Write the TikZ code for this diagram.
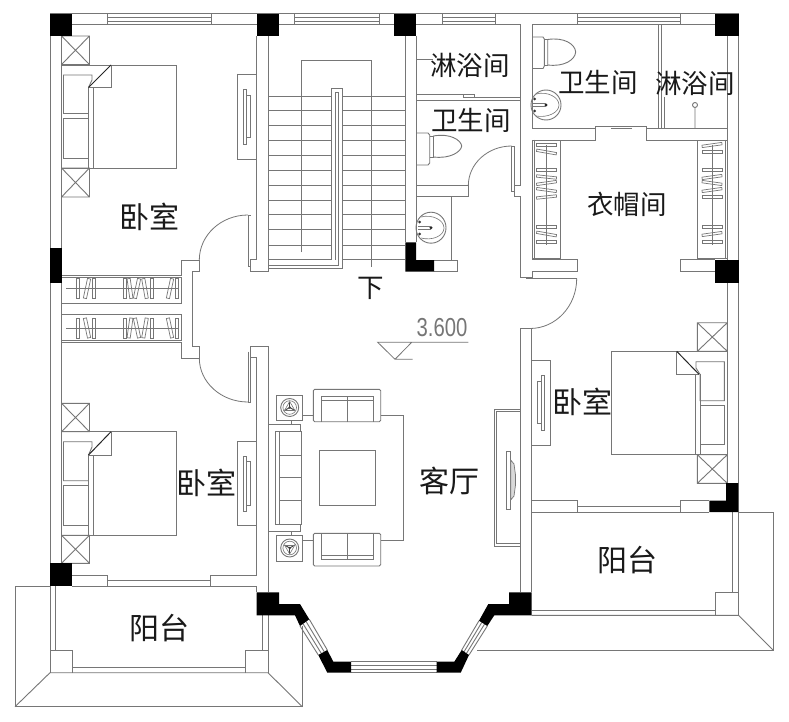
\documentclass[tikz,border=0pt]{standalone}
\usepackage{fontspec}
\usetikzlibrary{calc}
\setmainfont{Noto Sans CJK SC}
\newfontfamily\numfont{Liberation Sans}
\definecolor{ln}{HTML}{767676}
\tikzset{
  x=1pt,y=-1pt,
  wl/.style={draw=ln,line width=0.9pt,line join=miter},
  thn/.style={draw=ln,line width=0.8pt},
  blk/.style={fill=black,draw=none},
  lab/.style={inner sep=0pt,text=black!90,font=\fontsize{30}{30}\selectfont},
  labs/.style={inner sep=0pt,text=black!90,font=\fontsize{26.5}{27}\selectfont},
}
\newcommand{\xbox}[4]{\draw[wl] (#1,#2) rectangle (#3,#4) (#1,#2) -- (#3,#4) (#1,#4) -- (#3,#2);}
\newcommand{\hangV}[3]{\draw[thn,line width=0.7pt,rotate around={#3:(#1,#2)}] (#1-1.6,#2-10) rectangle (#1+1.6,#2+10);}
\newcommand{\hangH}[3]{\draw[thn,line width=0.7pt,rotate around={#3:(#1,#2)}] (#1-10,#2-1.2) rectangle (#1+10,#2+1.2);}
\newcommand{\lampmark}[3]{%
 \draw[wl] (#1,#2) circle (9);
 \draw[thn,line width=0.6pt] (#1,#2) circle (6.8);
 \fill[black!75] (#1,#2) circle (1.3);
 \foreach \a in {0,120,240} {\draw[black!75,line width=0.9pt] (#1,#2) -- ++(#3+\a:6);
   \draw[thn,line width=0.6pt] ($(#1,#2)+(#3+\a:6)$) -- ($(#1,#2)+(#3+\a+60:3)$);
   \draw[thn,line width=0.6pt] ($(#1,#2)+(#3+\a:6)$) -- ($(#1,#2)+(#3+\a-60:3)$);}
}
\begin{document}
\begin{tikzpicture}
\useasboundingbox (0,0) rectangle (789,722);
\fill[white] (0,0) rectangle (789,722);
% outer top wall
\draw[wl] (50,13.7) -- (738.7,13.7);
\draw[wl] (72,24.5) -- (256.5,24.5) (279,24.5) -- (394,24.5) (416,24.5) -- (520.3,24.5) (532,24.5) -- (715,24.5);
% top windows
\foreach \a/\b in {107/211,294/379,442.5/495,577.7/680.7}{
  \draw[wl] (\a,13.7) -- (\a,24.5) (\b,13.7) -- (\b,24.5);
  \draw[wl] (\a,17.5) -- (\b,17.5) (\a,21) -- (\b,21);
}
% left wall
\draw[wl] (50,36) -- (50,563) (61.5,36) -- (61.5,248) (61.5,283) -- (61.5,563);
% walls around stair
\draw[wl] (256.5,36) -- (256.5,259.7) -- (250.7,259.7) -- (250.7,271) -- (268,271) -- (268,36);
\draw[wl] (248,215) -- (250.7,215) (248,215) -- (248,266) -- (250.7,266);
\draw[wl] (405.3,36) -- (405.3,242.3) (416,36) -- (416,242.3);
% treads
\foreach \y in {96,110.7,125.3,140.3,155.7,170.7,185.3,200.3,214.7,229.3,245,259.7}{
  \draw[thn] (268,\y) -- (331.7,\y) (342.3,\y) -- (405.3,\y);
}
\draw[thn] (301.3,252) -- (301.3,60.7) -- (371.7,60.7) -- (371.7,267);
\draw[thn] (331.7,259.7) -- (331.7,88) -- (342.3,88) -- (342.3,268) -- (268,268);
\draw[thn] (335,259.7) -- (335,92) -- (338.5,92) -- (338.5,265) -- (268,265);
% door top-left bedroom
\draw[wl] (61.5,275) -- (181.7,275) (181.7,275) -- (181.7,260) -- (199.3,260) -- (199.3,271) -- (192.7,271) -- (192.7,346.7) -- (199.3,346.7) -- (199.3,358) -- (181.7,358) -- (181.7,342.5);
\draw[thn] (199.3,260) arc (180:270:48.7 and 45);
\draw[thn] (199.3,358) arc (180:90:48.7 and 44);
% closets left
\draw[wl] (61.5,277.3) rectangle (181.7,303.3);
\draw[wl] (61.5,314.5) rectangle (181.7,340.5) (61.5,342.5) -- (181.7,342.5);
\draw[thn] (66,288.5) -- (178,288.5) (66,328) -- (178,328);
\foreach \x/\a in {78/0,87/-12,94/0,125/0,130/8,137/-12,145/10,152/0,170/-12,177/0}{\hangV{\x}{288.5}{\a}}
\foreach \x/\a in {78/0,87/12,94/0,125/0,130/-8,137/12,145/-10,152/0,170/12,177/0}{\hangV{\x}{328}{\a}}
% bedroom 1
\xbox{61.5}{36}{89.5}{64.5}
\xbox{61.5}{168}{89.5}{197}
\draw[wl] (61.5,65) -- (176,65) -- (176,168) -- (61.5,168);
\draw[wl] (63.5,75) -- (92,75) -- (92,80) -- (88.5,87.5) -- (88.5,113.5) -- (63.5,113.5) -- cycle;
\draw[wl] (63.5,118.5) rectangle (88.5,158);
\draw[wl] (88.5,87.5) -- (88.5,168) (93,87.5) -- (93,168);
\draw[wl] (111,65) -- (111,87.5) -- (88.5,87.5);
\draw[black!85,line width=1pt] (88.5,87.5) -- (111,65);
\draw[wl] (237.5,74) -- (256.5,74) (237.5,74) -- (237.5,159.5) -- (256.5,159.5);
\draw[thn] (243.5,89.5) rectangle (246.7,144) (246.7,95) rectangle (250,137);
% bedroom 2
\draw[wl] (250.7,346) -- (268,346) -- (268,592.3);
\draw[wl] (256.5,357.3) -- (250.7,357.3) -- (250.7,346);
\draw[wl] (256.5,357.3) -- (256.5,575) -- (210,575) -- (210,586) -- (256.5,586) -- (256.5,592.3);
\draw[wl] (248,351.7) -- (248,402) -- (250.3,402) -- (250.3,357.3);
\xbox{61.5}{403.3}{89.5}{431.7}
\xbox{61.5}{535.3}{89.5}{563.3}
\draw[wl] (61.5,431.7) -- (176,431.7) -- (176,535.3) -- (61.5,535.3);
\draw[wl] (63.5,441.7) -- (92,441.7) -- (92,447) -- (88.5,455) -- (88.5,480.7) -- (63.5,480.7) -- cycle;
\draw[wl] (63.5,485.7) rectangle (88.5,525);
\draw[wl] (88.5,455) -- (88.5,535.3) (93,455) -- (93,535.3);
\draw[wl] (111,431.7) -- (111,455) -- (88.5,455);
\draw[black!85,line width=1pt] (88.5,455) -- (111,431.7);
\draw[wl] (256.5,441) -- (237.7,441) -- (237.7,525.7) -- (256.5,525.7);
\draw[thn] (243.3,456) rectangle (246.7,511) (246.7,461.7) rectangle (250,505.7);
\draw[wl] (72,575) -- (107.3,575) -- (107.3,586) -- (72,586);
\draw[thn,line width=1.5pt] (107.3,580.3) -- (210,580.3);
% balcony left
\draw[wl] (50,586) -- (15,586) -- (15,706.7) -- (302.3,706.7) -- (302.3,626);
\draw[wl] (15,706.7) -- (50,672.7) -- (268,672.7) -- (302.3,706.7);
\draw[wl] (50,586) -- (50,672.7) (55.5,586) -- (55.5,650);
\draw[wl] (50,650) -- (72,650) -- (72,672.7) (245,672.7) -- (245,650) -- (268,650);
\draw[wl] (72,667) -- (245,667);
\draw[wl] (262.3,615.3) -- (262.3,650) (268,615.3) -- (268,672.7);
\draw[wl] (72,586) -- (256.5,586);
% bath mid
\draw[wl] (416,94) -- (474,94) -- (474,97.3) -- (463.3,97.3) -- (463.3,94);
\draw[wl] (463.3,97.3) -- (520.3,97.3) (416,100) -- (520.3,100);
\draw[thn] (416,59.3) -- (433,59.3);
\draw[wl] (416,185.7) -- (468.3,185.7) -- (468.3,196.7) -- (416,196.7);
\draw[thn] (451.7,196.7) -- (451.7,260);
\draw[wl] (520.3,24.5) -- (520.3,185) -- (514.3,185);
\draw[wl] (511.7,146) -- (514.3,146) -- (514.3,196.7) -- (520.3,196.7) -- (520.3,277) -- (532,277) -- (532,271.5);
\draw[wl] (511.7,146) -- (511.7,191) -- (514.3,191);
\draw[thn] (468.3,185.7) arc (180:270:43.4 and 39.7);
\draw[wl] (434,260) -- (457.3,260) -- (457.3,271.7) -- (434,271.7);
% toilets
\draw[wl] (416,133) -- (428,133) -- (429.7,135) -- (429.7,163) -- (428,165) -- (416,165);
\draw[wl] (433.5,136) .. controls (450,133) and (461,140) .. (461.7,146) .. controls (461,152) and (450,159) .. (433.5,157) -- cycle;
\draw[wl] (429.7,136) -- (433.5,136) (429.7,157) -- (433.5,157);
\draw[wl] (532,37) -- (543,37) -- (544.3,39) -- (544.3,66) -- (543,68.5) -- (532,68.5);
\draw[wl] (547.7,39.5) .. controls (564,37) and (575,44) .. (575.7,52) .. controls (575,60) and (564,67) .. (547.7,65) -- cycle;
\draw[wl] (544.3,39.5) -- (547.7,39.5) (544.3,65) -- (547.7,65);
% sinks
\draw[wl] (431,227.7) ellipse (15 and 15.5);
\draw[thn,line width=0.6pt] (421,217) .. controls (432,214) and (444,220) .. (444,228) .. controls (444,236) and (432,241) .. (421,238);
\fill[black!85] (431,227.7) circle (1.6);
\draw[thn,line width=0.6pt] (418,226.5) -- (431,226.5) (418,229) -- (431,229);
\fill[black!80] (419.5,222) circle (1.5) (419.5,234) circle (1.5);
\draw[wl] (546,105) ellipse (15 and 15);
\draw[thn,line width=0.6pt] (536,94) .. controls (547,91) and (559,97) .. (559,105) .. controls (559,113) and (547,118) .. (536,116);
\fill[black!85] (546,105) circle (1.6);
\draw[thn,line width=0.6pt] (533,103.7) -- (546,103.7) (533,106.3) -- (546,106.3);
\fill[black!80] (534.5,99) circle (1.5) (534.5,111) circle (1.5);
% bath right
\draw[wl] (532,24.5) -- (532,128) -- (595,128) -- (595,126) -- (646,126) -- (646,128) -- (727.3,128);
\draw[wl] (658,24.5) -- (658,128) (661,24.5) -- (661,128) (664,97) -- (664,128);
\draw[wl] (532,140) -- (595,140) -- (595,128) (646,128) -- (646,140) -- (727.3,140);
\draw[thn] (611,128.7) -- (632,128.7);
\draw[wl] (695,105) circle (2.5) (695,107.5) -- (695,128);
% closets right
\draw[wl] (532,140) rectangle (560.5,258.7) (534,140) -- (534,258.7);
\draw[wl] (697,140) rectangle (727.3,258.7) (725.3,140) -- (725.3,258.7);
\draw[thn] (546.5,145) -- (546.5,245) (712,145) -- (712,245);
\foreach \y/\a in {145/0,152/-10,170/0,177/-6,183/8,190/-8,197/6,227/0,234/-10,242/0}{\hangH{546.5}{\y}{\a}}
\foreach \y/\a in {145/8,152/0,170/0,177/8,183/-8,190/8,197/0,227/0,234/8,242/0}{\hangH{712}{\y}{\a}}
\draw[wl] (532,259) -- (577.7,259) -- (577.7,271.5) -- (532,271.5);
\draw[wl] (715,259) -- (680.5,259) -- (680.5,271.5) -- (715,271.5);
% right wall
\draw[wl] (738.7,36) -- (738.7,260) (738.7,283) -- (738.7,483) (727.3,36) -- (727.3,260) (727.3,283) -- (727.3,483);
% door bedroom 3
\draw[wl] (526,278.5) -- (576.7,278.5);
\draw[thn] (576.7,278.5) arc (0:90:46.7 and 50);
\draw[wl] (520.7,592.3) -- (520.7,328.5) -- (531.7,328.5) -- (531.7,592.3);
% bedroom 3
\xbox{697.3}{322.7}{727.3}{351.3}
\xbox{697.3}{454.7}{727.3}{483.3}
\draw[wl] (727.3,351.3) -- (611.7,351.3) -- (611.7,454.7) -- (727.3,454.7);
\draw[wl] (696,361.7) -- (724.3,361.7) -- (724.3,400.7) -- (700,400.7) -- (700,374.3) -- (696,368) -- cycle;
\draw[wl] (700,405) rectangle (724.3,444.3);
\draw[wl] (695.7,374.3) -- (695.7,454.7) (700,374.3) -- (700,454.7);
\draw[wl] (676.7,351.3) -- (676.7,374.3) -- (699,374.3);
\draw[black!85,line width=1pt] (676.7,351.3) -- (699,374.3);
\draw[wl] (531.7,360.7) -- (550,360.7) -- (550,445) -- (531.7,445);
\draw[thn] (537.3,381.7) rectangle (541.7,423) (541.7,375) rectangle (544.3,430.7);
\draw[wl] (531.7,500.7) -- (577.7,500.7) -- (577.7,512) (680.3,512) -- (680.3,500.7) -- (709.3,500.7);
\draw[thn,line width=1.5pt] (577.7,506.5) -- (680.3,506.5);
% balcony right
\draw[wl] (531.7,512) -- (709.3,512) (738.5,512) -- (773,512) -- (773,650) -- (476.7,650);
\draw[wl] (531.7,615.3) -- (738.5,615.3) -- (773,650);
\draw[wl] (732.7,512) -- (732.7,592.3) (738.5,512) -- (738.5,615.3);
\draw[wl] (715,615.3) -- (715,592.3) -- (738.5,592.3);
\draw[wl] (531.7,610) -- (715,610);
% level mark
\draw[thn] (468.3,342.3) -- (377.7,342.3) -- (395,359.3) -- (412.7,359.3) (395,359.3) -- (411.7,342.3);
\node[inner sep=0pt,text=ln] (lv) at (442,327.5) {\numfont\fontsize{26}{26}\selectfont\scalebox{0.78}[1]{3.600}};
% living room furniture
\draw[wl] (276.7,395) rectangle (302.7,420) (276.7,535) rectangle (302.7,561);
\lampmark{289.7}{407.5}{-90}
\lampmark{289.7}{548}{90}
\draw[wl] (275,431.7) rectangle (301,524.3) (279.3,431.7) -- (279.3,524.3);
\draw[wl] (279.3,455.7) -- (301,455.7) (279.3,477.7) -- (301,477.7) (279.3,500.3) -- (301,500.3);
\draw[wl] (268,424) -- (300,424) -- (300,431.7) (268,531) -- (300,531) -- (300,524.3);
\draw[wl] (291.7,420) -- (291.7,424) (291.7,531) -- (291.7,535);
\draw[wl,rounded corners=1.5pt] (313.3,389.3) rectangle (380.7,421.7);
\draw[wl] (321.3,421.7) -- (321.3,396.7) -- (373,396.7) -- (373,421.7) (321.3,400) -- (373,400) (347,396.7) -- (347,421.7);
\draw[wl,rounded corners=1.5pt] (313.3,533.3) rectangle (380.7,566);
\draw[wl] (321.3,533.3) -- (321.3,559) -- (373,559) -- (373,533.3) (321.3,555) -- (373,555) (347,533.3) -- (347,559);
\draw[wl] (380.7,415) -- (403.3,415) -- (403.3,540.3) -- (380.7,540.3) (302.7,415) -- (313.3,415) (302.7,540.3) -- (313.3,540.3);
\draw[wl] (319.3,450) rectangle (375.3,505);
\draw[wl] (520.7,409.3) -- (494.3,409.3) -- (494.3,546.7) -- (520.7,546.7);
\draw[wl] (520.7,411.7) -- (496,411.7) -- (496,543.7) -- (520.7,543.7);
\draw[thn] (506.7,451) rectangle (510.7,509);
\draw[thn,line width=0.7pt,fill=black!15] (510.7,460) -- (514,464) -- (515.5,475) -- (515.5,485) -- (514,496) -- (510.7,500) -- cycle;
% bay windows
\draw[wl] (351,661.7) -- (436.7,661.7) (351,672.7) -- (436.7,672.7) (351,665.3) -- (436.7,665.3) (351,669) -- (436.7,669);
\foreach \t in {0,0.33,0.66,1}{
  \draw[wl] ($(300,626)!\t!(309.3,619.3)$) -- ($(318.3,655)!\t!(327.3,650)$);
  \draw[wl] ($(479,620.7)!\t!(487.3,626)$) -- ($(461.7,650)!\t!(469,655)$);
}
% black columns
\fill[blk] (50,14) rectangle (72,36);
\fill[blk] (256.5,14) rectangle (279,36);
\fill[blk] (394,14) rectangle (416,36);
\fill[blk] (715,14) rectangle (738.7,36);
\fill[blk] (50,248) rectangle (61.5,283);
\fill[blk] (50,563) rectangle (72,586);
\fill[blk] (715,260) rectangle (738.7,283);
\fill[blk] (405.3,242.3) -- (416,242.3) -- (416,260) -- (434,260) -- (434,271.7) -- (405.3,271.7) -- cycle;
\fill[blk] (726,483) -- (738.5,483) -- (738.5,512) -- (709.3,512) -- (709.3,500.7) -- (726,500.7) -- cycle;
\fill[blk] (256.7,592.3) -- (279,592.3) -- (279,604) -- (300,604) -- (309.3,619.3) -- (300,626) -- (295,615.3) -- (256.7,615.3) -- cycle;
\fill[blk] (318.3,655) -- (327.3,650) -- (333.3,661.7) -- (351,661.7) -- (351,672.7) -- (327.3,672.7) -- cycle;
\fill[blk] (436.7,661.7) -- (454.3,661.7) -- (461.7,650) -- (469,655) -- (460.7,672.7) -- (436.7,672.7) -- cycle;
\fill[blk] (479,620.7) -- (487.3,626) -- (494.3,615.3) -- (531.7,615.3) -- (531.7,592.3) -- (509,592.3) -- (509,604) -- (488.3,604) -- cycle;
% labels
\node[lab] (t1) at (149.5,217) {卧室};
\node[labs] (t2) at (470,65) {淋浴间};
\node[labs] (t3) at (471,120) {卫生间};
\node[labs] (t4) at (598,82) {卫生间};
\node[labs] (t5) at (695,83) {淋浴间};
\node[labs] (t6) at (627,204) {衣帽间};
\node[lab] (t7) at (206,483) {卧室};
\node[lab] (t8) at (582,402) {卧室};
\node[lab] (t9) at (449,481) {客厅};
\node[lab] (t10) at (159,628) {阳台};
\node[lab] (t11) at (627,560) {阳台};
\node[labs] (t12) at (371,288) {下};
\end{tikzpicture}
\end{document}
